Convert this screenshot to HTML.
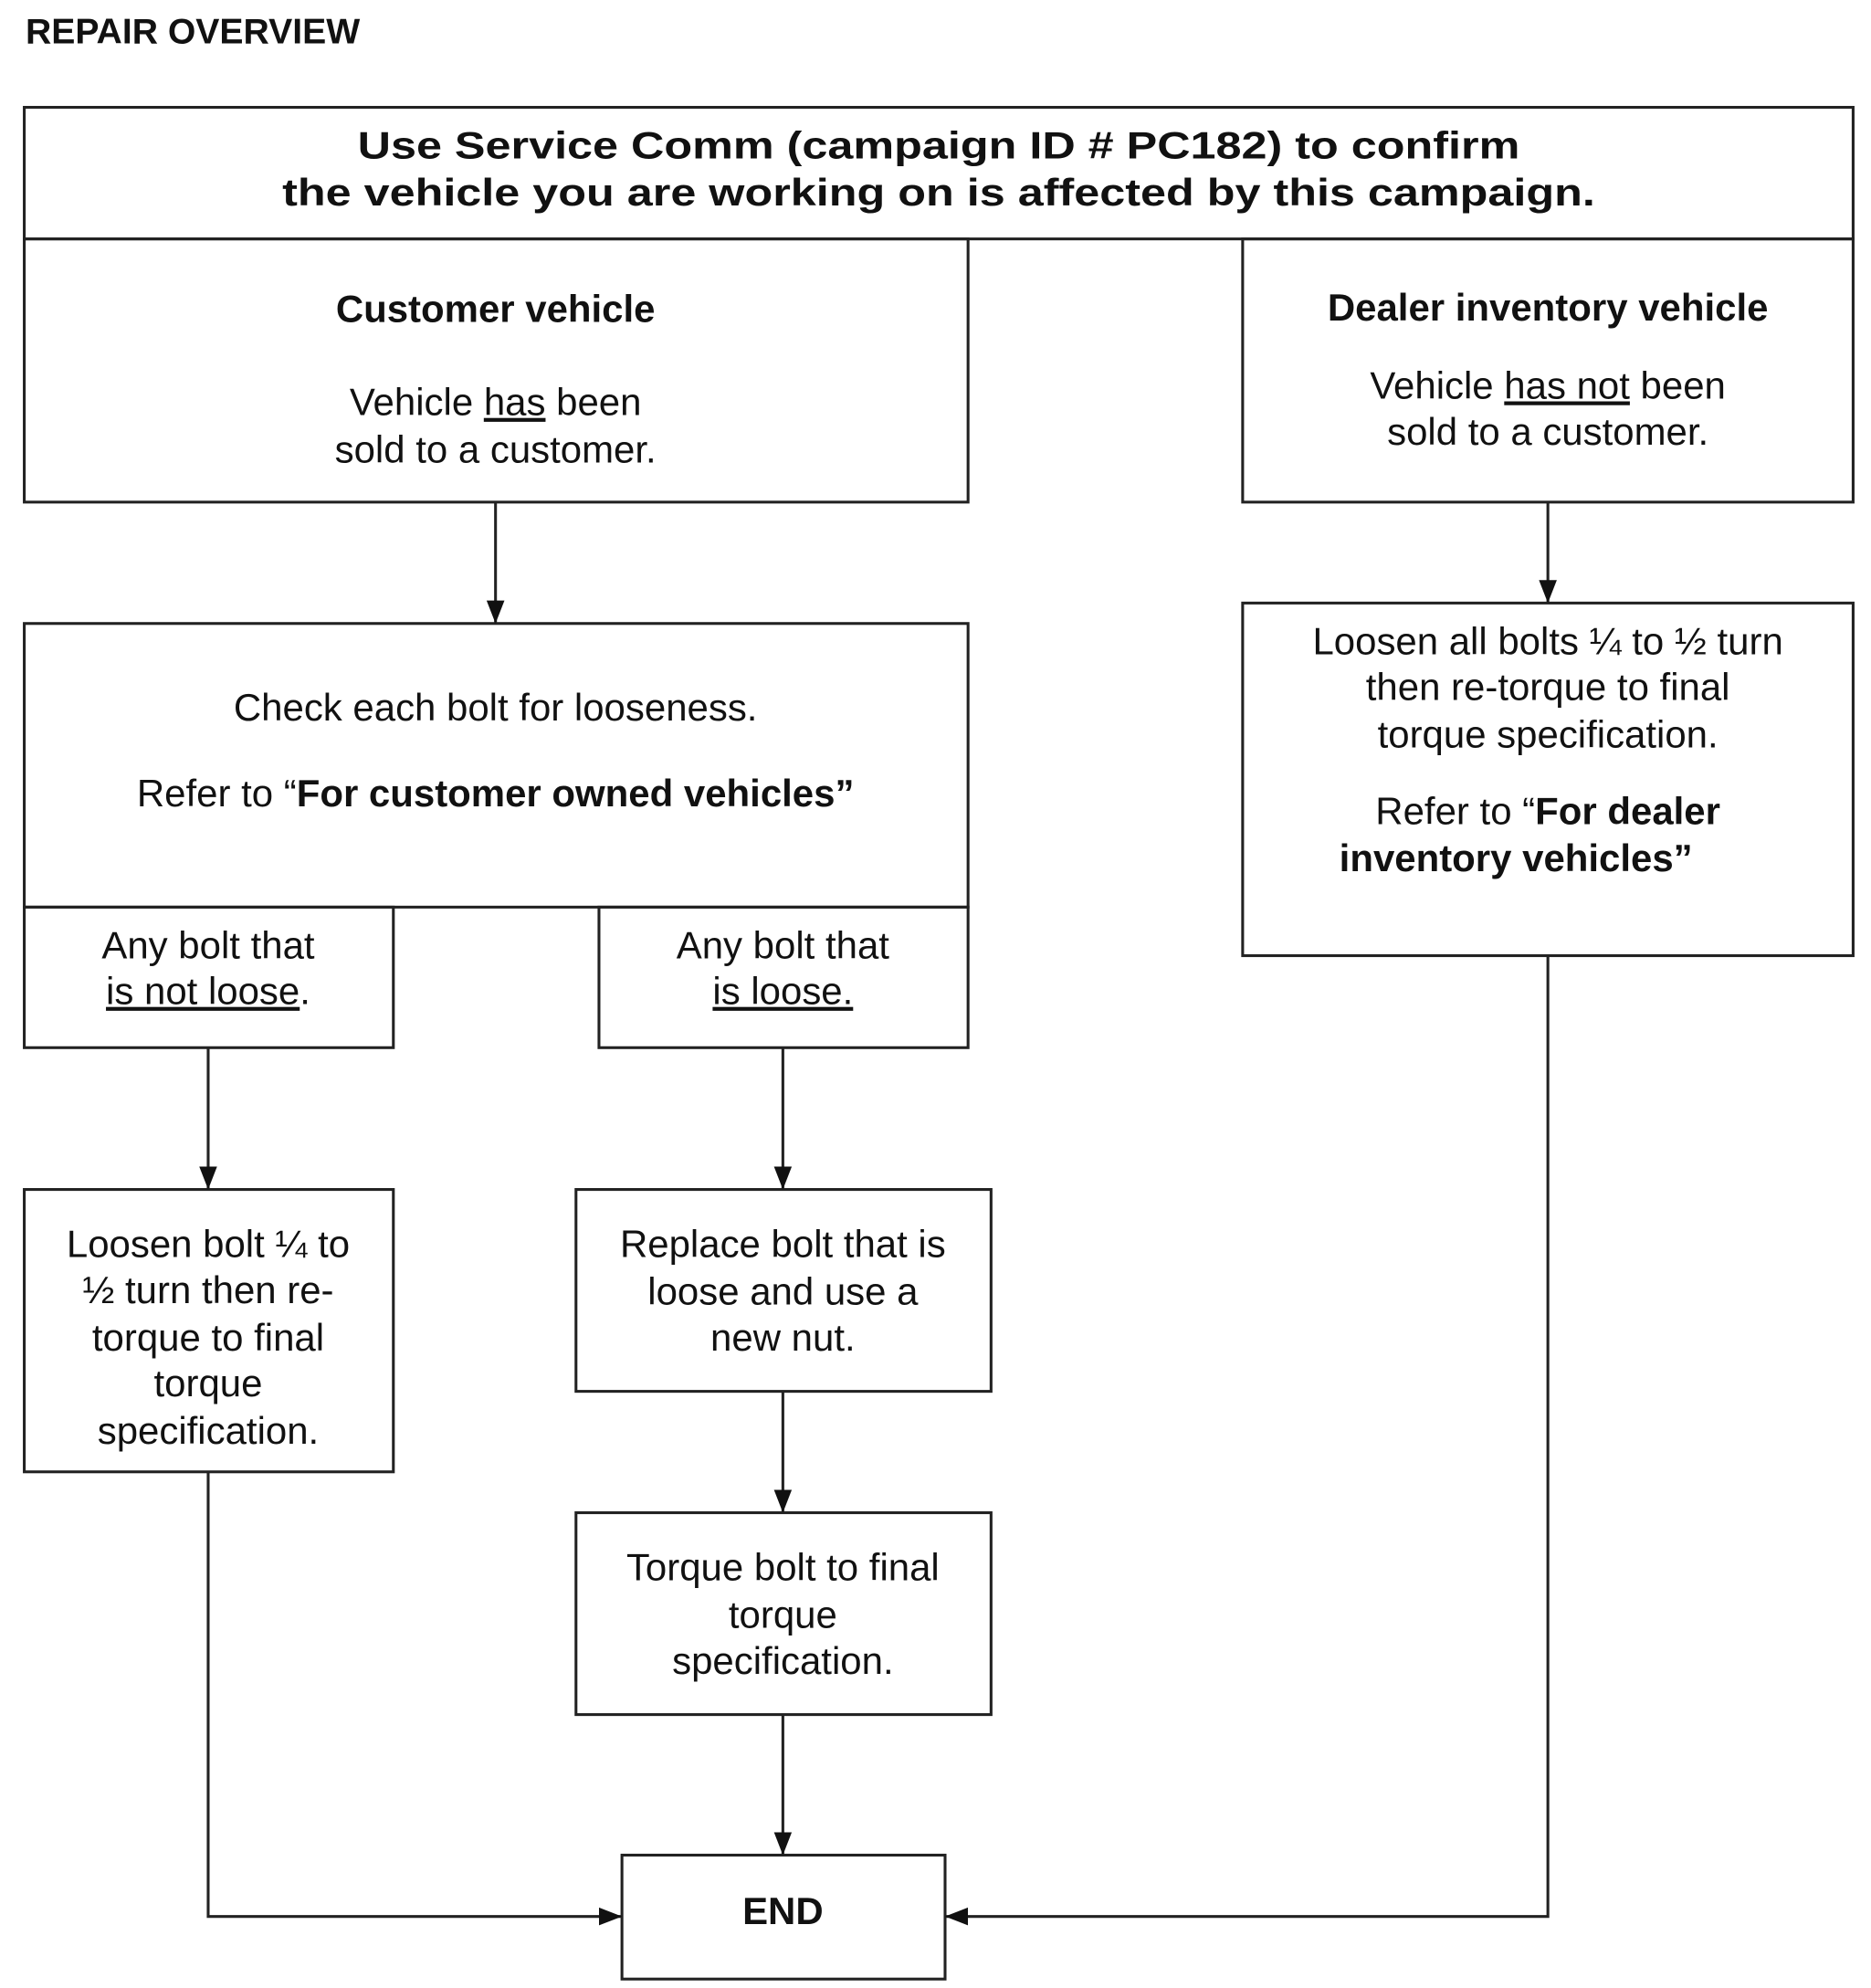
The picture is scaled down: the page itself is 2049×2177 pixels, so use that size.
<!DOCTYPE html>
<html><head><meta charset="utf-8"><style>
html,body{margin:0;padding:0;background:#fff;}
svg{display:block;}
text{font-family:"Liberation Sans",Arial,sans-serif;fill:#111;}
.b{font-weight:bold;}
</style></head><body>
<svg width="2049" height="2177" viewBox="0 0 1465 1556" preserveAspectRatio="none" xmlns="http://www.w3.org/2000/svg">
<defs><marker id="a" markerWidth="10" markerHeight="10" refX="9" refY="5" orient="auto" markerUnits="userSpaceOnUse"><path d="M0,0 L10,5 L0,10 Z" fill="#111"/></marker>
<marker id="ah" viewBox="0 0 18 18" markerWidth="18" markerHeight="18" refX="18" refY="9" orient="auto" markerUnits="userSpaceOnUse"><path d="M0,2 L18,9 L0,16 Z" fill="#111"/></marker></defs>
<g fill="none" stroke="#222" stroke-width="2.2">
<rect x="19" y="84" width="1432" height="103"/>
<rect x="19" y="187" width="739" height="206"/>
<rect x="973" y="187" width="478" height="206"/>
<rect x="19" y="488" width="739" height="222"/>
<rect x="19" y="710" width="289" height="110"/>
<rect x="469" y="710" width="289" height="110"/>
<rect x="19" y="931" width="289" height="221"/>
<rect x="451" y="931" width="325" height="158"/>
<rect x="451" y="1184" width="325" height="158"/>
<rect x="487" y="1452" width="253" height="97"/>
<rect x="973" y="472" width="478" height="276"/>
<line x1="388" y1="393" x2="388" y2="488" marker-end="url(#ah)"/>
<line x1="1212" y1="393" x2="1212" y2="472" marker-end="url(#ah)"/>
<line x1="163" y1="820" x2="163" y2="931" marker-end="url(#ah)"/>
<line x1="613" y1="820" x2="613" y2="931" marker-end="url(#ah)"/>
<line x1="613" y1="1089" x2="613" y2="1184" marker-end="url(#ah)"/>
<line x1="613" y1="1342" x2="613" y2="1452" marker-end="url(#ah)"/>
<polyline points="163,1152 163,1500 487,1500" marker-end="url(#ah)"/>
<polyline points="1212,748 1212,1500 740,1500" marker-end="url(#ah)"/>
</g>
<text x="20" y="34" class="b" font-size="28">REPAIR OVERVIEW</text>
<g font-size="30" text-anchor="middle">
<text x="735" y="124" class="b" textLength="910" lengthAdjust="spacingAndGlyphs">Use Service Comm (campaign ID # PC182) to confirm</text>
<text x="735" y="161" class="b" textLength="1028" lengthAdjust="spacingAndGlyphs">the vehicle you are working on is affected by this campaign.</text>
<text x="388" y="252" class="b">Customer vehicle</text>
<text x="388" y="325">Vehicle <tspan text-decoration="underline">has</tspan> been</text>
<text x="388" y="362">sold to a customer.</text>
<text x="1212" y="251" class="b">Dealer inventory vehicle</text>
<text x="1212" y="312">Vehicle <tspan text-decoration="underline">has not</tspan> been</text>
<text x="1212" y="348">sold to a customer.</text>
<text x="388" y="564">Check each bolt for looseness.</text>
<text x="388" y="631">Refer to “<tspan class="b">For customer owned vehicles”</tspan></text>
<text x="163" y="750">Any bolt that</text>
<text x="163" y="786"><tspan text-decoration="underline">is not loose</tspan>.</text>
<text x="613" y="750">Any bolt that</text>
<text x="613" y="786" text-decoration="underline">is loose.</text>
<text x="1212" y="512">Loosen all bolts ¼ to ½ turn</text>
<text x="1212" y="548">then re-torque to final</text>
<text x="1212" y="585">torque specification.</text>
<text x="1212" y="645">Refer to “<tspan class="b">For dealer</tspan></text>
<text x="1187" y="682" class="b">inventory vehicles”</text>
<text x="163" y="984">Loosen bolt ¼ to</text>
<text x="163" y="1020">½ turn then re-</text>
<text x="163" y="1057">torque to final</text>
<text x="163" y="1093">torque</text>
<text x="163" y="1130">specification.</text>
<text x="613" y="984">Replace bolt that is</text>
<text x="613" y="1021">loose and use a</text>
<text x="613" y="1057">new nut.</text>
<text x="613" y="1237">Torque bolt to final</text>
<text x="613" y="1274">torque</text>
<text x="613" y="1310">specification.</text>
<text x="613" y="1506" class="b">END</text>
</g>
</svg>
</body></html>
